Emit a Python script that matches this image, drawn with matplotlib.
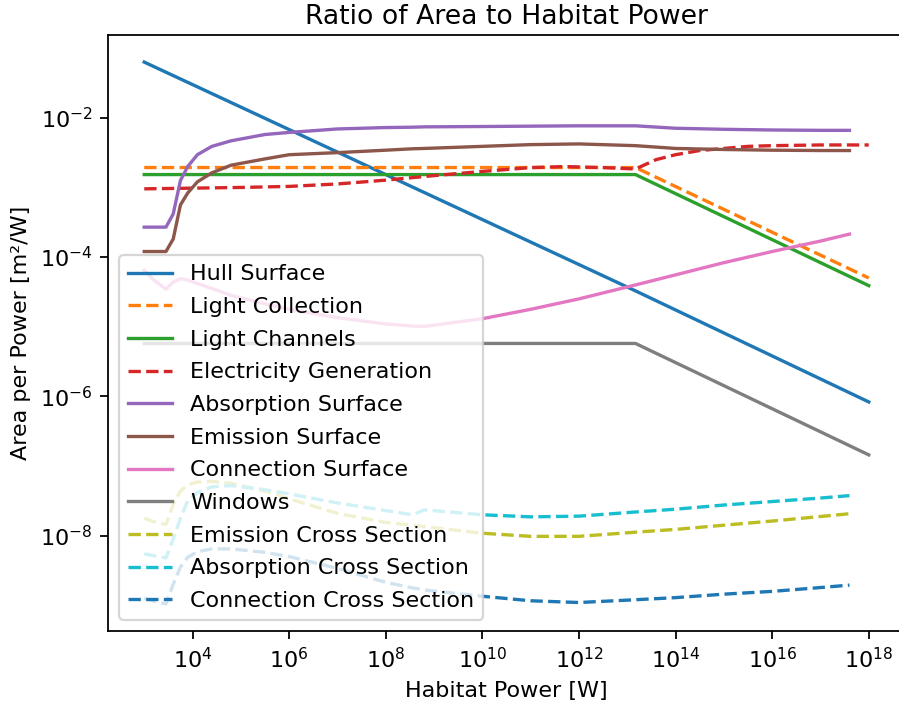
import matplotlib
matplotlib.use("Agg")
import matplotlib.pyplot as plt
from matplotlib.ticker import NullLocator
import numpy as np

# habitat power sample points, log10(W)
p_knee = [3, 13.17, 18]
p_elec = [3, 4, 5, 6, 7, 8, 9, 10, 11, 11.7, 12.5, 13.17, 13.6, 14, 14.5, 15, 15.5, 16, 17, 18]
p_curve = [3.0, 3.2, 3.45, 3.6, 3.75, 3.9, 4.1, 4.4, 4.8, 5.5, 6, 7, 8, 8.55, 8.8,
           10, 11, 12, 13.17, 14, 15, 16, 17, 17.6]

# area per power, log10(m^2/W)
hull = [-1.20, -4.485, -6.08]
light_collection = [-2.714, -2.714, -4.30]
light_channels = [-2.815, -2.815, -4.41]
windows = [-5.24, -5.24, -6.84]

electricity = [-3.02, -3.01, -3.00, -2.985, -2.95, -2.895, -2.83, -2.77, -2.715, -2.70,
               -2.715, -2.735, -2.60, -2.53, -2.47, -2.44, -2.41, -2.40, -2.39, -2.39]

absorption_surf = [-3.57, -3.57, -3.57, -3.38, -2.90, -2.70, -2.53, -2.41, -2.33, -2.24,
                   -2.21, -2.16, -2.14, -2.135, -2.13, -2.125, -2.12, -2.115, -2.115,
                   -2.15, -2.165, -2.175, -2.18, -2.18]
emission_surf = [-3.92, -3.92, -3.92, -3.74, -3.25, -3.08, -2.92, -2.79, -2.68, -2.59,
                 -2.53, -2.50, -2.465, -2.445, -2.44, -2.41, -2.385, -2.375, -2.40,
                 -2.44, -2.455, -2.465, -2.47, -2.47]
connection_surf = [-4.19, -4.33, -4.46, -4.36, -4.31, -4.33, -4.38, -4.45, -4.55, -4.67,
                   -4.75, -4.87, -4.96, -4.99, -4.995, -4.885, -4.75, -4.60, -4.40,
                   -4.255, -4.08, -3.92, -3.77, -3.67]
emission_cs = [-7.75, -7.80, -7.84, -7.55, -7.36, -7.27, -7.23, -7.22, -7.25, -7.36,
               -7.47, -7.68, -7.81, -7.85, -7.87, -7.965, -8.01, -8.01, -7.95,
               -7.91, -7.85, -7.79, -7.725, -7.685]
absorption_cs = [-8.26, -8.29, -8.32, -8.05, -7.75, -7.50, -7.38, -7.30, -7.28, -7.34,
                 -7.40, -7.53, -7.64, -7.70, -7.63, -7.70, -7.73, -7.72, -7.66,
                 -7.62, -7.56, -7.51, -7.46, -7.425]
connection_cs = [-8.90, -8.94, -8.98, -8.70, -8.45, -8.31, -8.23, -8.19, -8.19, -8.24,
                 -8.30, -8.47, -8.67, -8.75, -8.78, -8.87, -8.935, -8.96, -8.92,
                 -8.89, -8.84, -8.80, -8.745, -8.71]

series = [
    ("Hull Surface", p_knee, hull, "C0", "-"),
    ("Light Collection", p_knee, light_collection, "C1", "--"),
    ("Light Channels", p_knee, light_channels, "C2", "-"),
    ("Electricity Generation", p_elec, electricity, "C3", "--"),
    ("Absorption Surface", p_curve, absorption_surf, "C4", "-"),
    ("Emission Surface", p_curve, emission_surf, "C5", "-"),
    ("Connection Surface", p_curve, connection_surf, "C6", "-"),
    ("Windows", p_knee, windows, "C7", "-"),
    ("Emission Cross Section", p_curve, emission_cs, "C8", "--"),
    ("Absorption Cross Section", p_curve, absorption_cs, "C9", "--"),
    ("Connection Cross Section", p_curve, connection_cs, "C0", "--"),
]

DPI = 160
fig = plt.figure(figsize=(899 / DPI, 707 / DPI), dpi=DPI)
ax = fig.add_axes([108 / 899, 76 / 707, 797 / 899, 596 / 707])

for label, px, py, color, ls in series:
    ax.plot(10.0 ** np.array(px), 10.0 ** np.array(py), color=color, linestyle=ls, label=label)

ax.set_xscale("log")
ax.set_yscale("log")
ax.set_xticks([10.0 ** k for k in range(4, 19, 2)])
ax.set_yticks([10.0 ** k for k in range(-8, -1, 2)])
ax.xaxis.set_minor_locator(NullLocator())
ax.yaxis.set_minor_locator(NullLocator())

ax.set_title("Ratio of Area to Habitat Power", pad=5)
ax.set_xlabel("Habitat Power [W]")
ax.set_ylabel("Area per Power [m²/W]")
ax.legend(loc="lower left", labelspacing=0.57)

fig.savefig("out.png", dpi=DPI)
